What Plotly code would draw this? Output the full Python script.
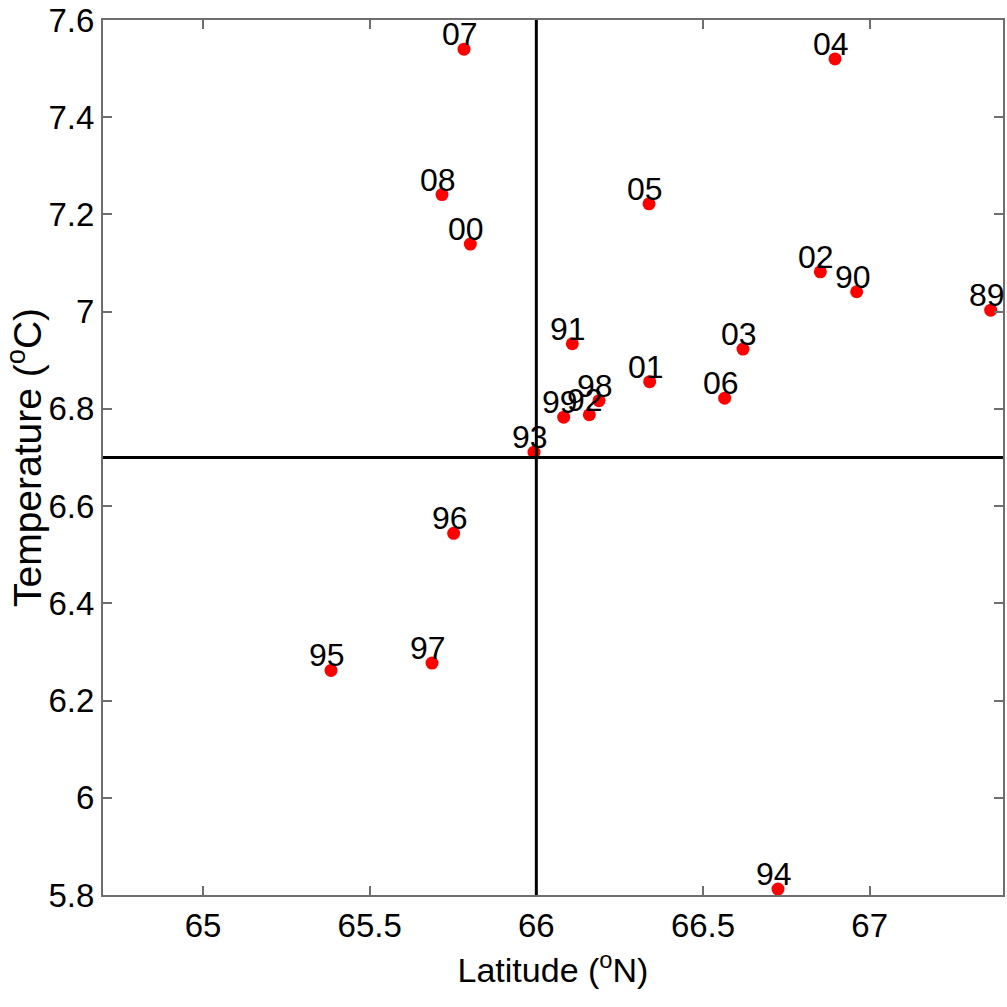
import plotly.graph_objects as go

years = ["07", "04", "08", "05", "00", "02", "90", "89", "91", "03",
         "01", "06", "98", "92", "99", "93", "96", "97", "95", "94"]
latitude = [65.783, 66.896, 65.717, 66.338, 65.802, 66.852, 66.961, 67.363, 66.108, 66.620,
            66.340, 66.565, 66.188, 66.159, 66.082, 65.993, 65.752, 65.687, 65.384, 66.725]
temperature = [7.540, 7.520, 7.241, 7.222, 7.139, 7.082, 7.041, 7.003, 6.934, 6.923,
               6.856, 6.822, 6.817, 6.788, 6.783, 6.711, 6.544, 6.277, 6.262, 5.812]

ref_lat = 66.0
ref_temp = 6.7

x_ticks = [65, 65.5, 66, 66.5, 67]
x_tick_text = ["65", "65.5", "66", "66.5", "67"]
y_ticks = [5.8, 6.0, 6.2, 6.4, 6.6, 6.8, 7.0, 7.2, 7.4, 7.6]
y_tick_text = ["5.8", "6", "6.2", "6.4", "6.6", "6.8", "7", "7.2", "7.4", "7.6"]

FONT = "Liberation Sans Narrow, Arial Narrow, Liberation Sans, Arial, sans-serif"

fig = go.Figure()
fig.add_trace(go.Scatter(
    x=latitude, y=temperature, mode="markers",
    marker=dict(color="#ff0000", size=13, line=dict(width=0)),
    cliponaxis=False, showlegend=False, hoverinfo="skip"))

fig.add_vline(x=ref_lat, line=dict(color="black", width=3), layer="above")
fig.add_hline(y=ref_temp, line=dict(color="black", width=3), layer="above")

for t, x, y in zip(years, latitude, temperature):
    fig.add_annotation(x=x, y=y, text=t, showarrow=False,
                       xanchor="center", yanchor="bottom", xshift=-4, yshift=-5,
                       font=dict(family=FONT, size=32, color="black"))

axis_common = dict(showline=True, linecolor="#6e6e6e", linewidth=2, mirror="ticks",
                   ticks="inside", ticklen=9, tickcolor="#6e6e6e", tickwidth=1.5,
                   showgrid=False, zeroline=False, ticklabeloverflow="allow",
                   tickfont=dict(family=FONT, size=33, color="black"))

fig.update_xaxes(range=[64.7, 67.4], tickvals=x_ticks, ticktext=x_tick_text,
                 title=dict(text="Latitude (<sup>o</sup>N)",
                            font=dict(family=FONT, size=34, color="black"), standoff=16),
                 **axis_common)
fig.update_yaxes(range=[5.7999, 7.6001], tickvals=y_ticks, ticktext=y_tick_text,
                 title=dict(text="Temperature (<sup>o</sup>C)",
                            font=dict(family=FONT, size=39, color="black"), standoff=8),
                 **axis_common)

fig.update_layout(width=1007, height=1007, autosize=False,
                  margin=dict(l=103, r=2, t=18, b=112),
                  paper_bgcolor="white", plot_bgcolor="white")

fig.write_html("out.html")
